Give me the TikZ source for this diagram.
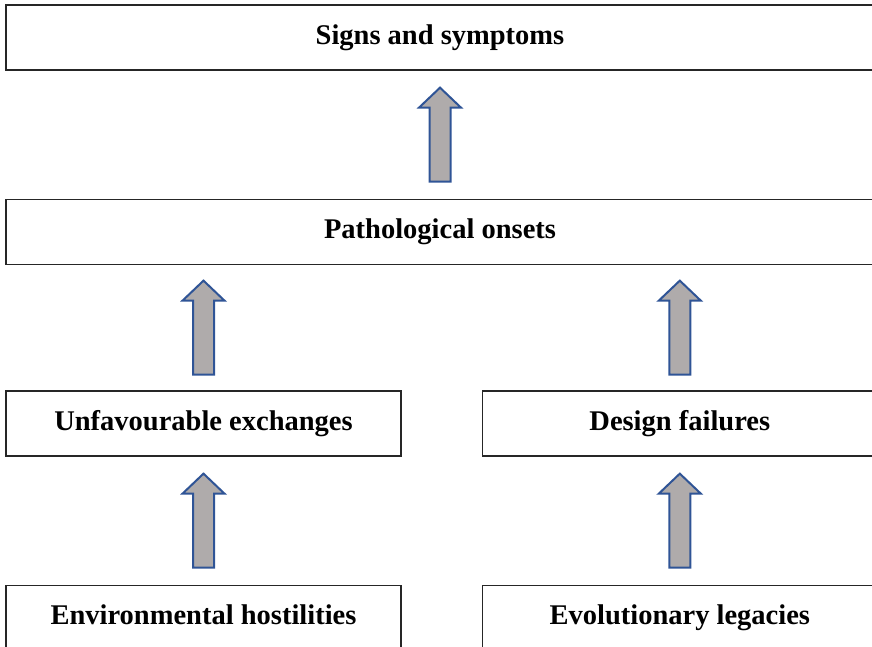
\documentclass[tikz,border=0pt]{standalone}
\usepackage{fontspec}
\setmainfont{Liberation Serif}
\usepackage{tikz}
\usetikzlibrary{positioning, calc}

\definecolor{arrowgray}{RGB}{175,171,171}
\definecolor{arrowblue}{RGB}{47,84,150}

\tikzset{
  stage/.style={draw=black!85, line width=1.3pt, fill=white, minimum height=65pt,
    font=\fontsize{28.5}{32}\selectfont\bfseries, inner sep=0pt,
    text height=20pt, text depth=6pt},
  wide/.style={stage, minimum width=868pt},
  half/.style={stage, minimum width=395pt},
  blockup/.pic={
    \draw[arrowblue, fill=arrowgray, line width=2pt, line join=miter]
      (-10.5,-47) -- (-10.5,27) -- (-21,27) -- (0,47) -- (21,27) -- (10.5,27) -- (10.5,-47) -- cycle;
  }
}

\begin{document}
\begin{tikzpicture}[x=1pt, y=1pt, node distance=128pt]
  \useasboundingbox (0,0) rectangle (872,647);

  % boxes
  \node[wide] (signs) at (440,609.5) {Signs and symptoms};
  \node[wide, below=of signs] (patho) {Pathological onsets};
  \node[half] (unfav) at (203.5,223.5) {Unfavourable exchanges};
  \node[half, right=80pt of unfav] (design) {Design failures};
  \node[half, below=of unfav] (env) {Environmental hostilities};
  \node[half, below=of design] (evol) {Evolutionary legacies};

  % arrows
  \path ($(patho.north)!0.5!(signs.south)$) pic {blockup};
  \path ($(unfav.north)!0.5!(unfav.north |- patho.south)$) pic {blockup};
  \path ($(design.north)!0.5!(design.north |- patho.south)$) pic {blockup};
  \path ($(env.north)!0.5!(unfav.south)$) pic {blockup};
  \path ($(evol.north)!0.5!(design.south)$) pic {blockup};
\end{tikzpicture}
\end{document}
